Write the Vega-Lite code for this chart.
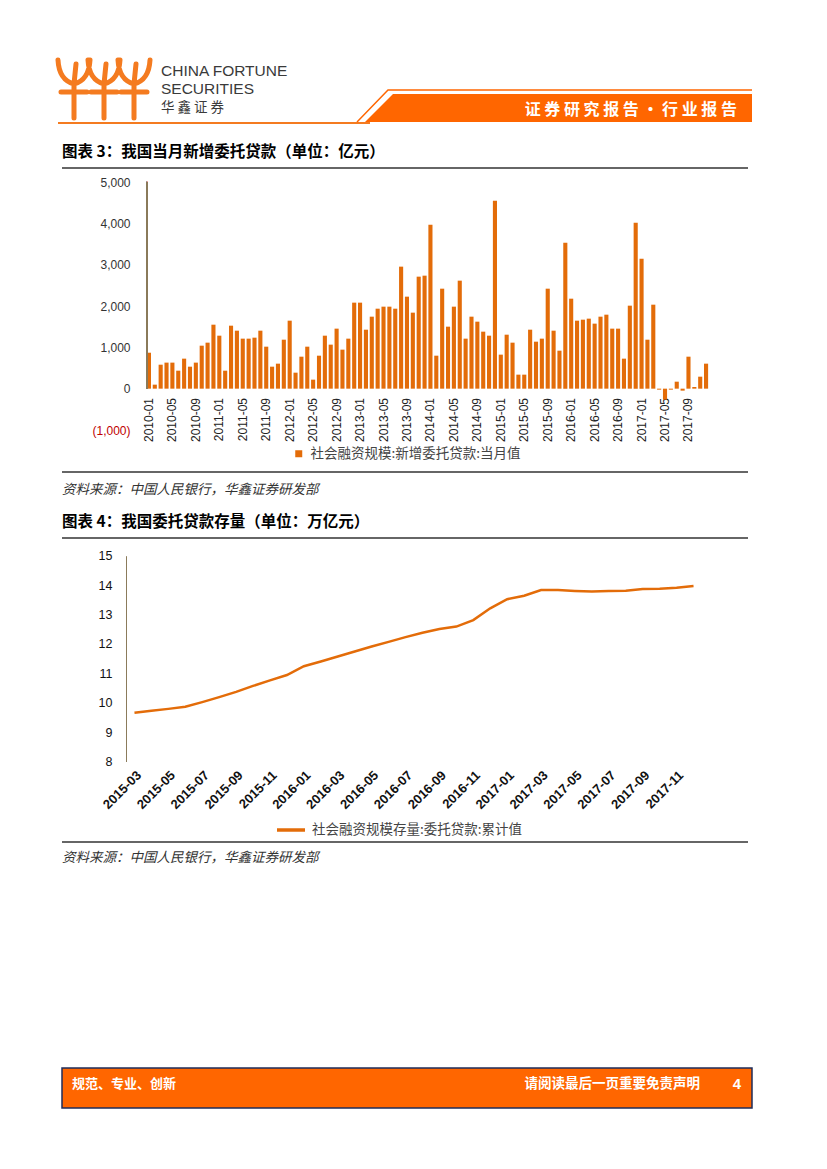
{
  "$schema": "https://vega.github.io/schema/vega-lite/v6.json",
  "width": 827,
  "height": 1169,
  "padding": 0,
  "autosize": {"type": "none"},
  "background": "white",
  "config": {"view": {"stroke": null}, "font": "Noto Sans CJK SC"},
  "datasets": {
    "bars": [
      {"month": "2010-01", "value": 870}, {"month": "2010-02", "value": 97}, {"month": "2010-03", "value": 580}, {"month": "2010-04", "value": 630},
      {"month": "2010-05", "value": 630}, {"month": "2010-06", "value": 435}, {"month": "2010-07", "value": 726}, {"month": "2010-08", "value": 532},
      {"month": "2010-09", "value": 630}, {"month": "2010-10", "value": 1040}, {"month": "2010-11", "value": 1113}, {"month": "2010-12", "value": 1548},
      {"month": "2011-01", "value": 1282}, {"month": "2011-02", "value": 435}, {"month": "2011-03", "value": 1524}, {"month": "2011-04", "value": 1403},
      {"month": "2011-05", "value": 1210}, {"month": "2011-06", "value": 1210}, {"month": "2011-07", "value": 1234}, {"month": "2011-08", "value": 1403},
      {"month": "2011-09", "value": 1016}, {"month": "2011-10", "value": 532}, {"month": "2011-11", "value": 605}, {"month": "2011-12", "value": 1185},
      {"month": "2012-01", "value": 1645}, {"month": "2012-02", "value": 387}, {"month": "2012-03", "value": 774}, {"month": "2012-04", "value": 1016},
      {"month": "2012-05", "value": 218}, {"month": "2012-06", "value": 798}, {"month": "2012-07", "value": 1282}, {"month": "2012-08", "value": 1065},
      {"month": "2012-09", "value": 1452}, {"month": "2012-10", "value": 944}, {"month": "2012-11", "value": 1210}, {"month": "2012-12", "value": 2081},
      {"month": "2013-01", "value": 2081}, {"month": "2013-02", "value": 1427}, {"month": "2013-03", "value": 1742}, {"month": "2013-04", "value": 1935},
      {"month": "2013-05", "value": 1984}, {"month": "2013-06", "value": 1984}, {"month": "2013-07", "value": 1935}, {"month": "2013-08", "value": 2952},
      {"month": "2013-09", "value": 2226}, {"month": "2013-10", "value": 1839}, {"month": "2013-11", "value": 2710}, {"month": "2013-12", "value": 2734},
      {"month": "2014-01", "value": 3968}, {"month": "2014-02", "value": 798}, {"month": "2014-03", "value": 2419}, {"month": "2014-04", "value": 1500},
      {"month": "2014-05", "value": 1984}, {"month": "2014-06", "value": 2613}, {"month": "2014-07", "value": 1210}, {"month": "2014-08", "value": 1742},
      {"month": "2014-09", "value": 1621}, {"month": "2014-10", "value": 1379}, {"month": "2014-11", "value": 1282}, {"month": "2014-12", "value": 4548},
      {"month": "2015-01", "value": 823}, {"month": "2015-02", "value": 1306}, {"month": "2015-03", "value": 1113}, {"month": "2015-04", "value": 339},
      {"month": "2015-05", "value": 339}, {"month": "2015-06", "value": 1427}, {"month": "2015-07", "value": 1137}, {"month": "2015-08", "value": 1210},
      {"month": "2015-09", "value": 2419}, {"month": "2015-10", "value": 1403}, {"month": "2015-11", "value": 919}, {"month": "2015-12", "value": 3532},
      {"month": "2016-01", "value": 2177}, {"month": "2016-02", "value": 1645}, {"month": "2016-03", "value": 1669}, {"month": "2016-04", "value": 1694},
      {"month": "2016-05", "value": 1573}, {"month": "2016-06", "value": 1742}, {"month": "2016-07", "value": 1790}, {"month": "2016-08", "value": 1452},
      {"month": "2016-09", "value": 1452}, {"month": "2016-10", "value": 726}, {"month": "2016-11", "value": 2008}, {"month": "2016-12", "value": 4016},
      {"month": "2017-01", "value": 3145}, {"month": "2017-02", "value": 1185}, {"month": "2017-03", "value": 2032}, {"month": "2017-04", "value": -24},
      {"month": "2017-05", "value": -266}, {"month": "2017-06", "value": -24}, {"month": "2017-07", "value": 169}, {"month": "2017-08", "value": -48},
      {"month": "2017-09", "value": 774}, {"month": "2017-10", "value": 40}, {"month": "2017-11", "value": 290}, {"month": "2017-12", "value": 605}
    ],
    "stock": [
      {"month": "2015-03", "value": 9.66}, {"month": "2015-04", "value": 9.73}, {"month": "2015-05", "value": 9.79}, {"month": "2015-06", "value": 9.86},
      {"month": "2015-07", "value": 10.02}, {"month": "2015-08", "value": 10.19}, {"month": "2015-09", "value": 10.37}, {"month": "2015-10", "value": 10.57},
      {"month": "2015-11", "value": 10.76}, {"month": "2015-12", "value": 10.94}, {"month": "2016-01", "value": 11.24}, {"month": "2016-02", "value": 11.4},
      {"month": "2016-03", "value": 11.57}, {"month": "2016-04", "value": 11.74}, {"month": "2016-05", "value": 11.91}, {"month": "2016-06", "value": 12.07},
      {"month": "2016-07", "value": 12.23}, {"month": "2016-08", "value": 12.38}, {"month": "2016-09", "value": 12.51}, {"month": "2016-10", "value": 12.59},
      {"month": "2016-11", "value": 12.81}, {"month": "2016-12", "value": 13.21}, {"month": "2017-01", "value": 13.52}, {"month": "2017-02", "value": 13.64},
      {"month": "2017-03", "value": 13.83}, {"month": "2017-04", "value": 13.83}, {"month": "2017-05", "value": 13.8}, {"month": "2017-06", "value": 13.78},
      {"month": "2017-07", "value": 13.8}, {"month": "2017-08", "value": 13.81}, {"month": "2017-09", "value": 13.87}, {"month": "2017-10", "value": 13.88},
      {"month": "2017-11", "value": 13.91}, {"month": "2017-12", "value": 13.97}
    ]
  },
  "resolve": {
    "scale": {"x": "independent", "y": "independent", "color": "independent"},
    "axis": {"x": "independent", "y": "independent"},
    "legend": {"color": "independent"}
  },
  "layer": [
    {
      "data": {"name": "bars"},
      "layer": [
        {
          "mark": {"type": "bar"},
          "encoding": {
            "x": {
              "field": "month", "type": "ordinal", "sort": null,
              "scale": {"type": "band", "range": [146, 709], "paddingInner": 0.3, "paddingOuter": 0.15},
              "axis": {
                "orient": "bottom", "offset": -780.5, "title": null, "domain": false, "ticks": false,
                "values": ["2010-01","2010-05","2010-09","2011-01","2011-05","2011-09","2012-01","2012-05","2012-09","2013-01","2013-05","2013-09","2014-01","2014-05","2014-09","2015-01","2015-05","2015-09","2016-01","2016-05","2016-09","2017-01","2017-05","2017-09"],
                "labelAngle": -90, "labelAlign": "right", "labelBaseline": "middle", "labelPadding": 9,
                "labelFont": "Liberation Sans", "labelFontSize": 12, "labelColor": "#222"
              }
            },
            "y": {
              "field": "value", "type": "quantitative",
              "scale": {"domain": [-1000, 5000], "range": [430, 182], "nice": false, "zero": false},
              "axis": {
                "orient": "left", "offset": -147, "title": null, "domain": false, "ticks": false, "grid": false,
                "values": [-1000, 0, 1000, 2000, 3000, 4000, 5000],
                "labelExpr": "datum.value < 0 ? '(' + format(-datum.value, ',') + ')' : format(datum.value, ',')",
                "labelColor": {"condition": {"test": "datum.value < 0", "value": "#C00000"}, "value": "#333333"},
                "labelPadding": 17, "labelFont": "Liberation Sans", "labelFontSize": 12
              }
            },
            "color": {
              "datum": "社会融资规模:新增委托贷款:当月值",
              "scale": {"range": ["#E36C09"]},
              "legend": {
                "orient": "none", "legendX": 292, "legendY": 447, "title": null, "padding": 0,
                "symbolType": "square", "symbolSize": 49, "symbolStrokeWidth": 0, "labelLimit": 0,
                "labelFont": "Noto Sans CJK SC", "labelFontSize": 13.5, "labelColor": "#444444", "labelOffset": 5
              }
            }
          }
        },
        {
          "mark": {"type": "rule", "color": "#8B7B5B", "strokeWidth": 1},
          "encoding": {
            "x": {"datum": "2010-01", "type": "ordinal", "bandPosition": 0},
            "y": {"datum": 0, "type": "quantitative"},
            "y2": {"datum": 5000}
          }
        }
      ]
    },
    {
      "data": {"name": "stock"},
      "mark": {"type": "line", "strokeWidth": 2.5},
      "encoding": {
        "x": {
          "field": "month", "type": "ordinal", "sort": null,
          "scale": {"type": "point", "range": [126, 702], "padding": 0.5},
          "axis": {
            "orient": "bottom", "offset": -407.5, "title": null, "domain": false, "ticks": false,
            "values": ["2015-03","2015-05","2015-07","2015-09","2015-11","2016-01","2016-03","2016-05","2016-07","2016-09","2016-11","2017-01","2017-03","2017-05","2017-07","2017-09","2017-11"],
            "labelAngle": -45, "labelAlign": "right", "labelBaseline": "top", "labelPadding": 7,
            "labelFont": "Liberation Sans", "labelFontSize": 13, "labelFontWeight": "bold", "labelColor": "#111111"
          }
        },
        "y": {
          "field": "value", "type": "quantitative",
          "scale": {"domain": [8, 15], "range": [761.5, 555.7], "nice": false, "zero": false},
          "axis": {
            "orient": "left", "offset": -126, "title": null, "domain": true, "domainColor": "#8B7B5B", "domainWidth": 1,
            "ticks": false, "grid": false, "values": [8, 9, 10, 11, 12, 13, 14, 15],
            "labelPadding": 14, "labelFont": "Liberation Sans", "labelFontSize": 12.5, "labelColor": "#111111"
          }
        },
        "color": {
          "datum": "社会融资规模存量:委托贷款:累计值",
          "scale": {"range": ["#E36C09"]},
          "legend": {
            "orient": "none", "legendX": 275, "legendY": 814, "title": null, "padding": 0,
            "symbolType": "stroke", "symbolSize": 784, "symbolStrokeWidth": 3.5, "labelLimit": 0,
            "labelFont": "Noto Sans CJK SC", "labelFontSize": 13.5, "labelColor": "#444444", "labelOffset": 5
          }
        }
      }
    },
    {
      "data": {"values": [{}]},
      "mark": {"type": "point", "shape": "M -46 -30 Q -45 -10 -30 -6 Q -15 -10 -14 -30 M -28 -26 L -30 -6 M -30 -8 L -30 28 M -43 2 L -17 2 M -16 -30 Q -15 -10 0 -6 Q 15 -10 16 -30 M 2 -26 L 0 -6 M 0 -8 L 0 28 M -13 2 L 13 2 M 14 -30 Q 15 -10 30 -6 Q 45 -10 46 -30 M 32 -26 L 30 -6 M 30 -8 L 30 28 M 17 2 L 43 2", "size": 4, "filled": false, "stroke": "#F47B20", "strokeWidth": 5, "strokeCap": "round", "opacity": 1},
      "encoding": {"x": {"value": 104}, "y": {"value": 90}}
    },
    {
      "data": {"values": [{}]},
      "mark": {"type": "rule", "color": "#F47B20", "strokeWidth": 2},
      "encoding": {"x": {"value": 58}, "x2": {"value": 370}, "y": {"value": 123}}
    },
    {
      "data": {"values": [{}]},
      "mark": {"type": "point", "shape": "M -195 14 L -167 -14 L 192 -14 L 192 14 Z", "size": 4, "filled": true, "fill": "#FF6600", "strokeWidth": 0, "opacity": 1},
      "encoding": {"x": {"value": 560}, "y": {"value": 108}}
    },
    {
      "data": {"values": [{}]},
      "mark": {"type": "point", "shape": "M -203 14 L -172 -18 L 192 -18", "size": 4, "filled": false, "stroke": "#FF6600", "strokeWidth": 1.5, "opacity": 1},
      "encoding": {"x": {"value": 560}, "y": {"value": 108}}
    },
    {
      "data": {"values": [{}]},
      "mark": {"type": "text", "align": "left", "baseline": "middle", "font": "Liberation Sans", "fontSize": 15.5, "color": "#3A3A3A"},
      "encoding": {"x": {"value": 161}, "y": {"value": 71}, "text": {"value": "CHINA FORTUNE"}}
    },
    {
      "data": {"values": [{}]},
      "mark": {"type": "text", "align": "left", "baseline": "middle", "font": "Liberation Sans", "fontSize": 15.5, "color": "#3A3A3A"},
      "encoding": {"x": {"value": 161}, "y": {"value": 89}, "text": {"value": "SECURITIES"}}
    },
    {
      "data": {"values": [{}]},
      "mark": {"type": "text", "align": "left", "baseline": "middle", "font": "Noto Sans CJK SC", "fontSize": 13.5, "color": "#3A3A3A"},
      "encoding": {"x": {"value": 161}, "y": {"value": 108}, "text": {"value": "华 鑫 证 券"}}
    },
    {
      "data": {"values": [{}]},
      "mark": {"type": "text", "align": "right", "baseline": "middle", "font": "Noto Sans CJK SC", "fontWeight": "bold", "fontSize": 16, "color": "white"},
      "encoding": {"x": {"value": 737}, "y": {"value": 110}, "text": {"value": "证 券 研 究 报 告 • 行 业 报 告"}}
    },
    {
      "data": {"values": [{}]},
      "mark": {"type": "text", "align": "left", "baseline": "middle", "font": "Noto Sans CJK SC", "fontWeight": "bold", "fontSize": 15.5, "color": "#000000"},
      "encoding": {"x": {"value": 62}, "y": {"value": 152}, "text": {"value": "图表 3：我国当月新增委托贷款（单位：亿元）"}}
    },
    {
      "data": {"values": [{}]},
      "mark": {"type": "text", "align": "left", "baseline": "middle", "font": "Noto Sans CJK SC", "fontWeight": "bold", "fontSize": 15.5, "color": "#000000"},
      "encoding": {"x": {"value": 62}, "y": {"value": 522}, "text": {"value": "图表 4：我国委托贷款存量（单位：万亿元）"}}
    },
    {
      "data": {"values": [{}]},
      "mark": {"type": "text", "align": "left", "baseline": "middle", "font": "Noto Sans CJK SC", "fontStyle": "italic", "fontSize": 13.5, "color": "#333333"},
      "encoding": {"x": {"value": 62}, "y": {"value": 490}, "text": {"value": "资料来源：中国人民银行，华鑫证券研发部"}}
    },
    {
      "data": {"values": [{}]},
      "mark": {"type": "text", "align": "left", "baseline": "middle", "font": "Noto Sans CJK SC", "fontStyle": "italic", "fontSize": 13.5, "color": "#333333"},
      "encoding": {"x": {"value": 62}, "y": {"value": 858}, "text": {"value": "资料来源：中国人民银行，华鑫证券研发部"}}
    },
    {
      "data": {"values": [{}]},
      "mark": {"type": "rule", "color": "#333333", "strokeWidth": 1.5},
      "encoding": {"x": {"value": 62}, "x2": {"value": 748}, "y": {"value": 168}}
    },
    {
      "data": {"values": [{}]},
      "mark": {"type": "rule", "color": "#333333", "strokeWidth": 1.5},
      "encoding": {"x": {"value": 62}, "x2": {"value": 748}, "y": {"value": 472}}
    },
    {
      "data": {"values": [{}]},
      "mark": {"type": "rule", "color": "#333333", "strokeWidth": 1.5},
      "encoding": {"x": {"value": 62}, "x2": {"value": 748}, "y": {"value": 538}}
    },
    {
      "data": {"values": [{}]},
      "mark": {"type": "rule", "color": "#333333", "strokeWidth": 1.5},
      "encoding": {"x": {"value": 62}, "x2": {"value": 748}, "y": {"value": 842}}
    },
    {
      "data": {"values": [{}]},
      "mark": {"type": "rect", "fill": "#FF6600", "stroke": "#1F2D5A", "strokeWidth": 1.5},
      "encoding": {"x": {"value": 62}, "x2": {"value": 752}, "y": {"value": 1068}, "y2": {"value": 1108}}
    },
    {
      "data": {"values": [{}]},
      "mark": {"type": "text", "align": "left", "baseline": "middle", "font": "Noto Sans CJK SC", "fontWeight": "bold", "fontSize": 13, "color": "white"},
      "encoding": {"x": {"value": 72}, "y": {"value": 1084}, "text": {"value": "规范、专业、创新"}}
    },
    {
      "data": {"values": [{}]},
      "mark": {"type": "text", "align": "right", "baseline": "middle", "font": "Noto Sans CJK SC", "fontWeight": "bold", "fontSize": 13.5, "color": "white"},
      "encoding": {"x": {"value": 700}, "y": {"value": 1084}, "text": {"value": "请阅读最后一页重要免责声明"}}
    },
    {
      "data": {"values": [{}]},
      "mark": {"type": "text", "align": "center", "baseline": "middle", "font": "Liberation Sans", "fontWeight": "bold", "fontSize": 15, "color": "white"},
      "encoding": {"x": {"value": 737}, "y": {"value": 1084}, "text": {"value": "4"}}
    }
  ]
}
